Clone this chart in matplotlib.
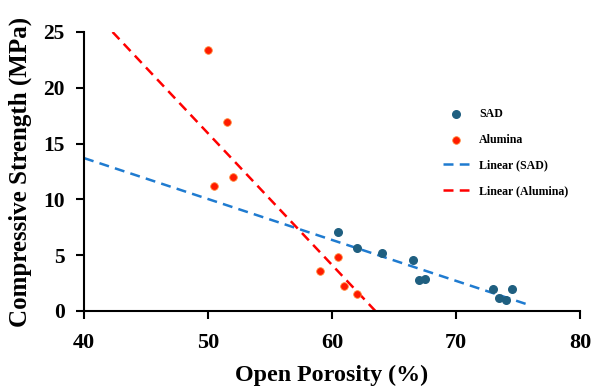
import matplotlib
matplotlib.use('Agg')
from matplotlib import pyplot as plt

# open porosity (%) and compressive strength (MPa)
sad_porosity = [60.5, 62.0, 64.0, 66.5, 67.0, 67.5, 73.0, 73.5, 74.0, 74.5]
sad_strength = [7.1, 5.6, 5.2, 4.6, 2.8, 2.9, 2.0, 1.2, 1.0, 2.0]

alumina_porosity = [50.0, 50.5, 51.5, 52.0, 59.0, 60.5, 61.0, 62.0]
alumina_strength = [23.4, 11.2, 16.9, 12.0, 3.6, 4.8, 2.2, 1.5]

# trendline end points as drawn in the chart
sad_trend_x = [40, 76]
sad_trend_y = [13.7, 0.5]
alumina_trend_x = [42.3, 63.5]
alumina_trend_y = [25.0, 0.0]

x_ticks = [40, 50, 60, 70, 80]
y_ticks = [0, 5, 10, 15, 20, 25]

plt.rcParams['font.family'] = ['Liberation Serif', 'DejaVu Serif']
plt.rcParams['font.weight'] = 'bold'

fig = plt.figure(figsize=(5.93, 3.90), dpi=100)
ax = fig.add_axes([0.1417, 0.2026, 0.8363, 0.7154])

sad_col = '#1f5f80'
sad_line_col = '#1f7bd0'
al_col = '#ff1a00'

ax.scatter(sad_porosity, sad_strength, s=30, color=sad_col, zorder=3, label='SAD')
ax.scatter(alumina_porosity, alumina_strength, s=30, color=al_col, edgecolors='#ff8a3a',
           linewidths=0.6, zorder=3, label='Alumina')

ax.plot(sad_trend_x, sad_trend_y, '--', color=sad_line_col, lw=1.8, dashes=(4, 2.5),
        label='Linear (SAD)', zorder=2)
ax.plot(alumina_trend_x, alumina_trend_y, '--', color='red', lw=1.8, dashes=(4, 2.5),
        label='Linear (Alumina)', zorder=2)

ax.set_xlim(40, 80)
ax.set_ylim(0, 25)
ax.set_xticks(x_ticks)
ax.set_yticks(y_ticks)
ax.spines['top'].set_visible(False)
ax.spines['right'].set_visible(False)
ax.spines['left'].set_linewidth(1.5)
ax.spines['bottom'].set_linewidth(1.5)
ax.tick_params(width=1.5, length=6)
ax.tick_params(axis='x', labelsize=16, pad=10)
ax.tick_params(axis='y', labelsize=15.5, pad=8)

ax.set_xlabel('Open Porosity (%)', fontsize=17.3, fontweight='bold', labelpad=8)
ax.set_ylabel('Compressive Strength (MPa)', fontsize=18, fontweight='bold', labelpad=8)

ax.legend(loc='center left', bbox_to_anchor=(0.724, 0.568), frameon=False, fontsize=8.6,
          labelspacing=1.15, handlelength=2.2, borderaxespad=0, borderpad=0)

fig.savefig('out.png', dpi=100)
